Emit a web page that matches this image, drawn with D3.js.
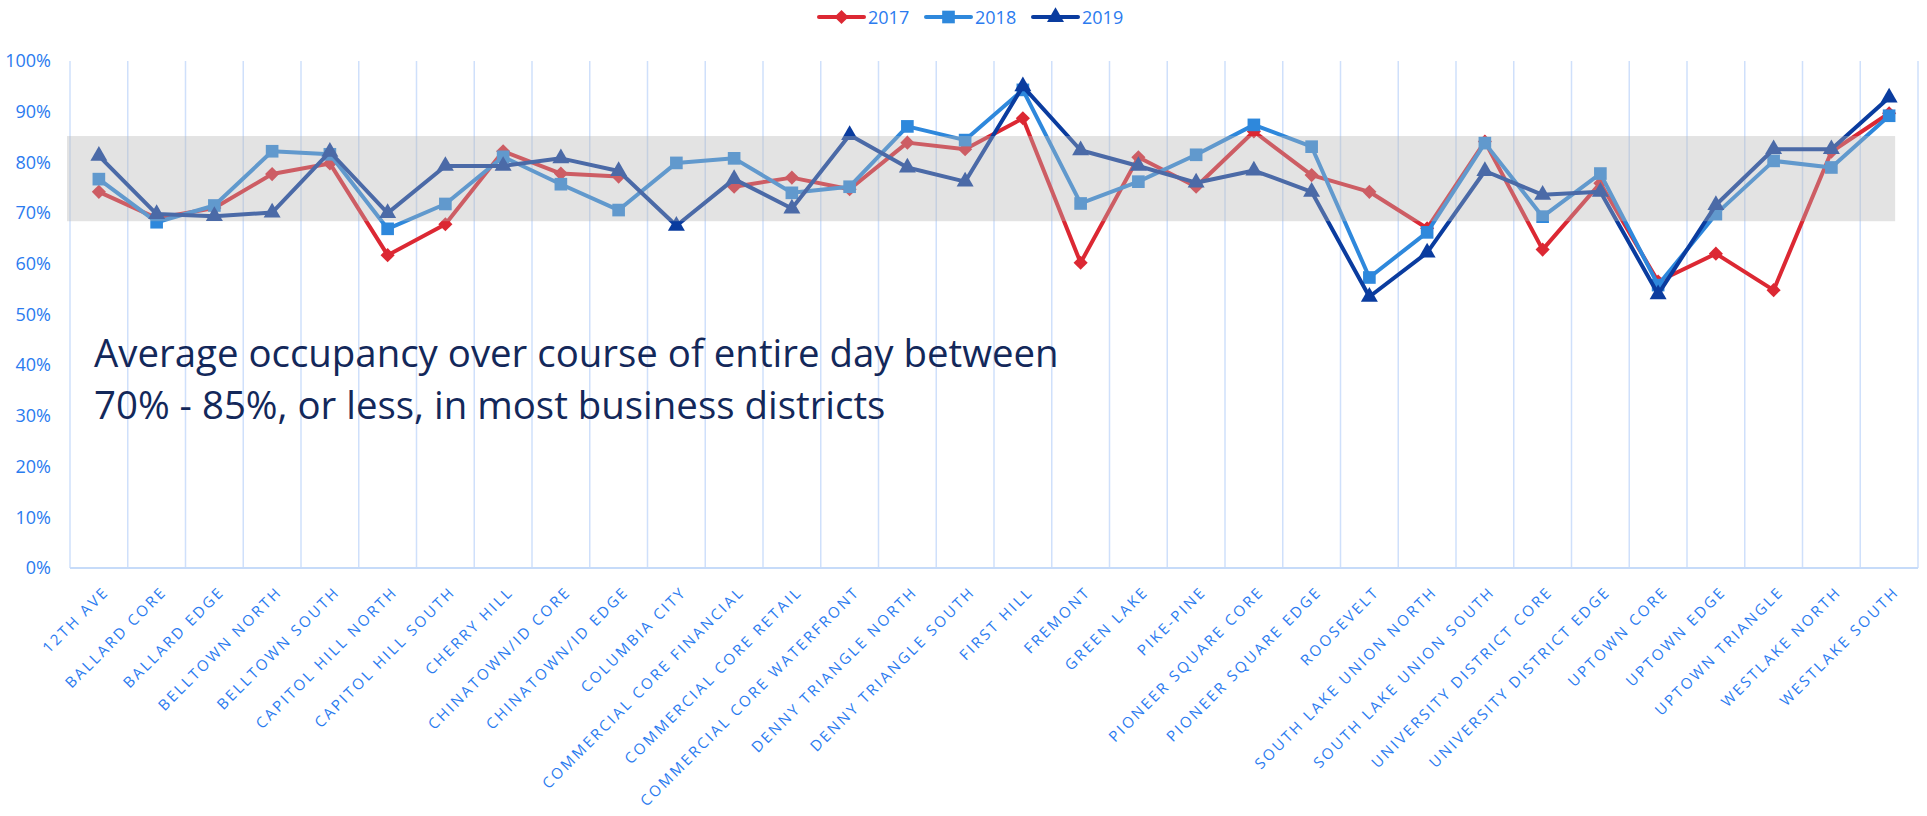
<!DOCTYPE html>
<html>
<head>
<meta charset="utf-8">
<script src="https://d3js.org/d3.v7.min.js"></script>
<style>
  body { margin: 0; background: #fff; }
  svg { display: block; font-family: "Open Sans", sans-serif; }
</style>
</head>
<body>
<svg width="1927" height="816"></svg>
<script>
// business districts on the x axis
const districts = ["12TH AVE", "BALLARD CORE", "BALLARD EDGE", "BELLTOWN NORTH", "BELLTOWN SOUTH",
  "CAPITOL HILL NORTH", "CAPITOL HILL SOUTH", "CHERRY HILL", "CHINATOWN/ID CORE", "CHINATOWN/ID EDGE",
  "COLUMBIA CITY", "COMMERCIAL CORE FINANCIAL", "COMMERCIAL CORE RETAIL", "COMMERCIAL CORE WATERFRONT",
  "DENNY TRIANGLE NORTH", "DENNY TRIANGLE SOUTH", "FIRST HILL", "FREMONT", "GREEN LAKE", "PIKE-PINE",
  "PIONEER SQUARE CORE", "PIONEER SQUARE EDGE", "ROOSEVELT", "SOUTH LAKE UNION NORTH",
  "SOUTH LAKE UNION SOUTH", "UNIVERSITY DISTRICT CORE", "UNIVERSITY DISTRICT EDGE", "UPTOWN CORE",
  "UPTOWN EDGE", "UPTOWN TRIANGLE", "WESTLAKE NORTH", "WESTLAKE SOUTH"];

// average occupancy, percent (null = no count that year)
const occ2017 = [74.2, 69.0, 71.0, 77.7, 79.8, 61.7, 67.8, 82.2, 77.8, 77.2, null, 75.2, 77.0, 74.7, 83.9, 82.6,
  88.7, 60.2, 81.0, 75.2, 86.1, 77.5, 74.2, 67.0, 84.1, 62.8, 75.9, 56.5, 62.0, 54.8, 82.1, 89.7];
const occ2018 = [76.7, 68.2, 71.5, 82.2, 81.6, 66.9, 71.8, 81.1, 75.7, 70.6, 79.9, 80.8, 74.0, 75.2, 87.1, 84.4,
  94.3, 71.9, 76.2, 81.5, 87.4, 83.1, 57.3, 66.2, 83.8, 69.3, 77.8, 55.8, 69.8, 80.3, 79.0, 89.2];
const occ2019 = [81.3, 69.8, 69.4, 70.1, 82.1, 70.0, 79.3, 79.3, 80.8, 78.3, 67.5, 76.7, 70.9, 85.4, 79.0, 76.2,
  95.0, 82.4, 79.3, 76.0, 78.4, 74.2, 53.5, 62.2, 78.3, 73.6, 74.2, 54.0, 71.6, 82.6, 82.6, 92.8];

const years = ["2017", "2018", "2019"];
const yTicks = [0, 10, 20, 30, 40, 50, 60, 70, 80, 90, 100];
const targetBand = [68.4, 85.2];
const note = ["Average occupancy over course of entire day between",
  "70% - 85%, or less, in most business districts"];

let series = [
  {name: years[0], values: occ2017, color: "#dc2833", shape: "diamond"},
  {name: years[1], values: occ2018, color: "#2e88dc", shape: "square"},
  {name: years[2], values: occ2019, color: "#0a3c9f", shape: "triangle"}
];

let svg = d3.select("svg"),
    margin = {top: 61, right: 9, bottom: 248, left: 70},
    width = +svg.attr("width") - margin.left - margin.right,
    height = +svg.attr("height") - margin.top - margin.bottom;

let x = d3.scaleBand().domain(districts).range([0, width]),
    y = d3.scaleLinear().domain([0, 100]).range([height, 0]);
let cx = (i) => x(districts[i]) + x.bandwidth() / 2;

let tickColor = "#2b7bef",
    gridColor = "#cfe0fb";

let g = svg.append("g")
    .attr("transform", "translate(" + margin.left + "," + margin.top + ")");

// vertical category gridlines
let edges = districts.map((d) => x(d)).concat([width]);
g.selectAll(".grid")
  .data(edges)
  .enter().append("line")
    .attr("class", "grid")
    .attr("x1", (d) => d).attr("x2", (d) => d)
    .attr("y1", 0).attr("y2", height)
    .attr("stroke", gridColor)
    .attr("stroke-width", 1.5);

g.append("line")
    .attr("x1", 0).attr("x2", width)
    .attr("y1", height).attr("y2", height)
    .attr("stroke", "#c6dbf9")
    .attr("stroke-width", 2);

// y axis, labels only
let yAxis = g.append("g")
    .call(d3.axisLeft(y).tickValues(yTicks).tickFormat((d) => d + "%").tickSize(0).tickPadding(19));
yAxis.select(".domain").remove();
yAxis.selectAll("text")
    .attr("fill", tickColor)
    .style("font-size", "18px")
    .style("font-family", "'Open Sans', sans-serif");

// x axis, rotated labels
let xAxis = g.append("g")
    .attr("transform", "translate(0," + height + ")")
    .call(d3.axisBottom(x).tickSize(0));
xAxis.select(".domain").remove();
xAxis.selectAll("text")
    .attr("x", 0).attr("y", 0).attr("dy", 0)
    .attr("text-anchor", "end")
    .attr("transform", "translate(11,25) rotate(-45)")
    .attr("fill", tickColor)
    .style("font-size", "15px")
    .style("letter-spacing", "2.4px")
    .style("font-family", "'Open Sans', sans-serif");

// the lines and markers
let line = d3.line()
    .defined((d) => d != null)
    .x((d, i) => cx(i))
    .y((d) => y(d));

let symbols = {
  diamond: d3.symbol().type(d3.symbolSquare).size(100),
  square: d3.symbol().type(d3.symbolSquare).size(160),
  triangle: d3.symbol().type(d3.symbolTriangle).size(125)
};

series.forEach((s) => {
  g.append("path")
      .datum(s.values)
      .attr("fill", "none")
      .attr("stroke", s.color)
      .attr("stroke-width", 4)
      .attr("stroke-linejoin", "round")
      .attr("d", line);

  g.selectAll(".pt-" + s.name)
    .data(s.values.map((v, i) => ({v: v, i: i})).filter((d) => d.v != null))
    .enter().append("path")
      .attr("class", "pt-" + s.name)
      .attr("d", symbols[s.shape]())
      .attr("fill", s.color)
      .attr("transform", (d) => "translate(" + cx(d.i) + "," + y(d.v) + ")" + (s.shape == "diamond" ? " rotate(45)" : ""));
});

// grey target band laid over the lines
g.append("rect")
    .attr("x", -3)
    .attr("width", cx(districts.length - 1) + 6 - (-3))
    .attr("y", y(targetBand[1]))
    .attr("height", y(targetBand[0]) - y(targetBand[1]))
    .attr("fill", "#b5b5b5")
    .attr("fill-opacity", 0.38);

// note text
let noteText = svg.append("g");
note.forEach((t, k) => {
  noteText.append("text")
      .attr("x", 94)
      .attr("y", 367 + k * 52)
      .attr("fill", "#13285a")
      .style("font-size", "40px")
      .text(t);
});
// fit the first line to the width seen in the picture
let w0 = noteText.select("text").node().getComputedTextLength();
noteText.selectAll("text").style("font-size", (40 * 965 / w0) + "px");

// legend
let legend = svg.append("g");
series.forEach((s, k) => {
  let lx = 819 + k * 107;
  let item = legend.append("g").attr("transform", "translate(" + lx + ",17)");
  item.append("line")
      .attr("x1", 0).attr("x2", 45)
      .attr("stroke", s.color)
      .attr("stroke-width", 4)
      .attr("stroke-linecap", "round");
  item.append("path")
      .attr("d", symbols[s.shape]())
      .attr("fill", s.color)
      .attr("transform", "translate(22.5,0)" + (s.shape == "diamond" ? " rotate(45)" : ""));
  item.append("text")
      .attr("x", 49)
      .attr("y", 6.5)
      .attr("fill", tickColor)
      .style("font-size", "18px")
      .text(s.name);
});
</script>
</body>
</html>
